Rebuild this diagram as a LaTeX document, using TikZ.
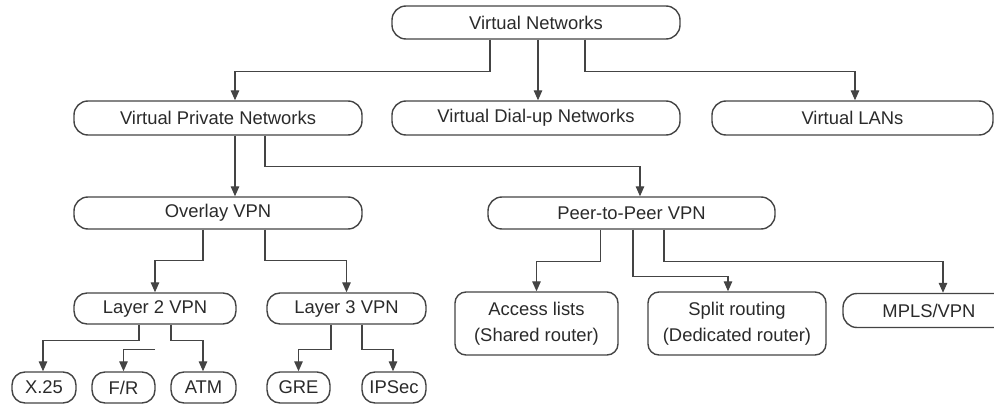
\documentclass[tikz,border=0pt]{standalone}
\usepackage{fontspec}
\setmainfont{Liberation Sans}
\usetikzlibrary{arrows.meta}
\definecolor{linec}{HTML}{444444}
\definecolor{textc}{HTML}{2A2A2A}
\begin{document}
\begin{tikzpicture}[x=1pt,y=-1pt,
  pill/.style={draw=linec, line width=1.4pt, rounded corners=14pt, minimum height=33pt,
    text=textc, font=\fontsize{18.4}{22}\selectfont, inner sep=0pt},
  small/.style={pill, minimum height=31pt, rounded corners=13pt},
  twoline/.style={draw=linec, line width=1.4pt, rounded corners=11pt, minimum height=63pt,
    text=textc, font=\fontsize{18.4}{26}\selectfont, inner sep=0pt, align=center},
  conn/.style={draw=linec, line width=1.3pt, -{Triangle[length=10pt,width=8.5pt]}},
  stub/.style={draw=linec, line width=1.3pt}]
\useasboundingbox (0,0) rectangle (994,404);
\clip (0,0) rectangle (994,404);

% level 0
\node[pill, minimum width=288pt] (vn) at (536,22.5) {Virtual Networks};
% level 1
\node[pill, minimum width=288pt, minimum height=34pt] (vpn) at (218,118) {Virtual Private Networks};
\node[pill, minimum width=288pt, minimum height=34pt] (vdn) at (536,118) {Virtual Dial-up Networks};
\node[pill, minimum width=281pt, minimum height=34pt] (vlan) at (852.5,118) {Virtual LANs};
% level 2
\node[pill, minimum width=288pt, minimum height=32pt] (ovl) at (218,213) {Overlay VPN};
\node[pill, minimum width=287pt, minimum height=32pt] (p2p) at (631.5,213) {Peer-to-Peer VPN};
% level 3
\node[small, minimum width=162pt] (l2) at (155,308.5) {Layer 2 VPN};
\node[small, minimum width=159pt] (l3) at (346.5,308.5) {Layer 3 VPN};
\node[twoline, minimum width=163pt] (acc) at (536.5,323.5) {Access lists\\(Shared router)};
\node[twoline, minimum width=178pt] (split) at (737,323.5) {Split routing\\(Dedicated router)};
\node[pill, minimum width=172pt, minimum height=34pt] (mpls) at (929,310.5) {MPLS/VPN};
% level 4
\node[small, minimum width=64pt] (x25) at (44,387.5) {X.25};
\node[small, minimum width=63pt] (fr) at (123.5,387.5) {F/R};
\node[small, minimum width=65pt] (atm) at (203.5,387.5) {ATM};
\node[small, minimum width=63pt] (gre) at (298.5,387.5) {GRE};
\node[small, minimum width=64pt] (ipsec) at (394,387.5) {IPSec};

% connectors from Virtual Networks
\draw[conn] ([xshift=-46pt]vn.south) -- ++(0,31.5) -| ([xshift=17pt]vpn.north);
\draw[conn] ([xshift=2pt]vn.south) -- ([xshift=2pt]vdn.north);
\draw[conn] ([xshift=49pt]vn.south) -- ++(0,31.5) -| ([xshift=2.5pt]vlan.north);
% from VPN
\draw[conn] ([xshift=17pt]vpn.south) -- ([xshift=17pt]ovl.north);
\draw[conn] ([xshift=47pt]vpn.south) -- ++(0,31) -| ([xshift=8.5pt]p2p.north);
% from Overlay
\draw[conn] ([xshift=-15pt]ovl.south) -- ++(0,31) -| (l2.north);
\draw[conn] ([xshift=47pt]ovl.south) -- ++(0,31) -| (l3.north);
% from Layer 2
\draw[conn] ([xshift=-16pt]l2.south) -- ++(0,16) -| ([xshift=-1pt]x25.north);
\coordinate (frs) at ([yshift=-25pt]l2.south);
\draw[conn] (frs) -| (fr.north);
\draw[conn] ([xshift=16pt]l2.south) -- ++(0,16) -| ([xshift=-0.5pt]atm.north);
% from Layer 3
\draw[conn] ([xshift=-15.5pt]l3.south) -- ++(0,25) -| (gre.north);
\draw[conn] ([xshift=15.5pt]l3.south) -- ++(0,25) -| ([xshift=-1pt]ipsec.north);
% from Peer-to-Peer
\draw[conn] ([xshift=-31pt]p2p.south) -- ++(0,32) -| (acc.north);
\draw[conn] ([xshift=1.5pt]p2p.south) -- ++(0,47) -| ([xshift=-9pt]split.north);
\draw[conn] ([xshift=32.5pt]p2p.south) -- ++(0,32) -| ([xshift=14pt]mpls.north);
\end{tikzpicture}
\end{document}
